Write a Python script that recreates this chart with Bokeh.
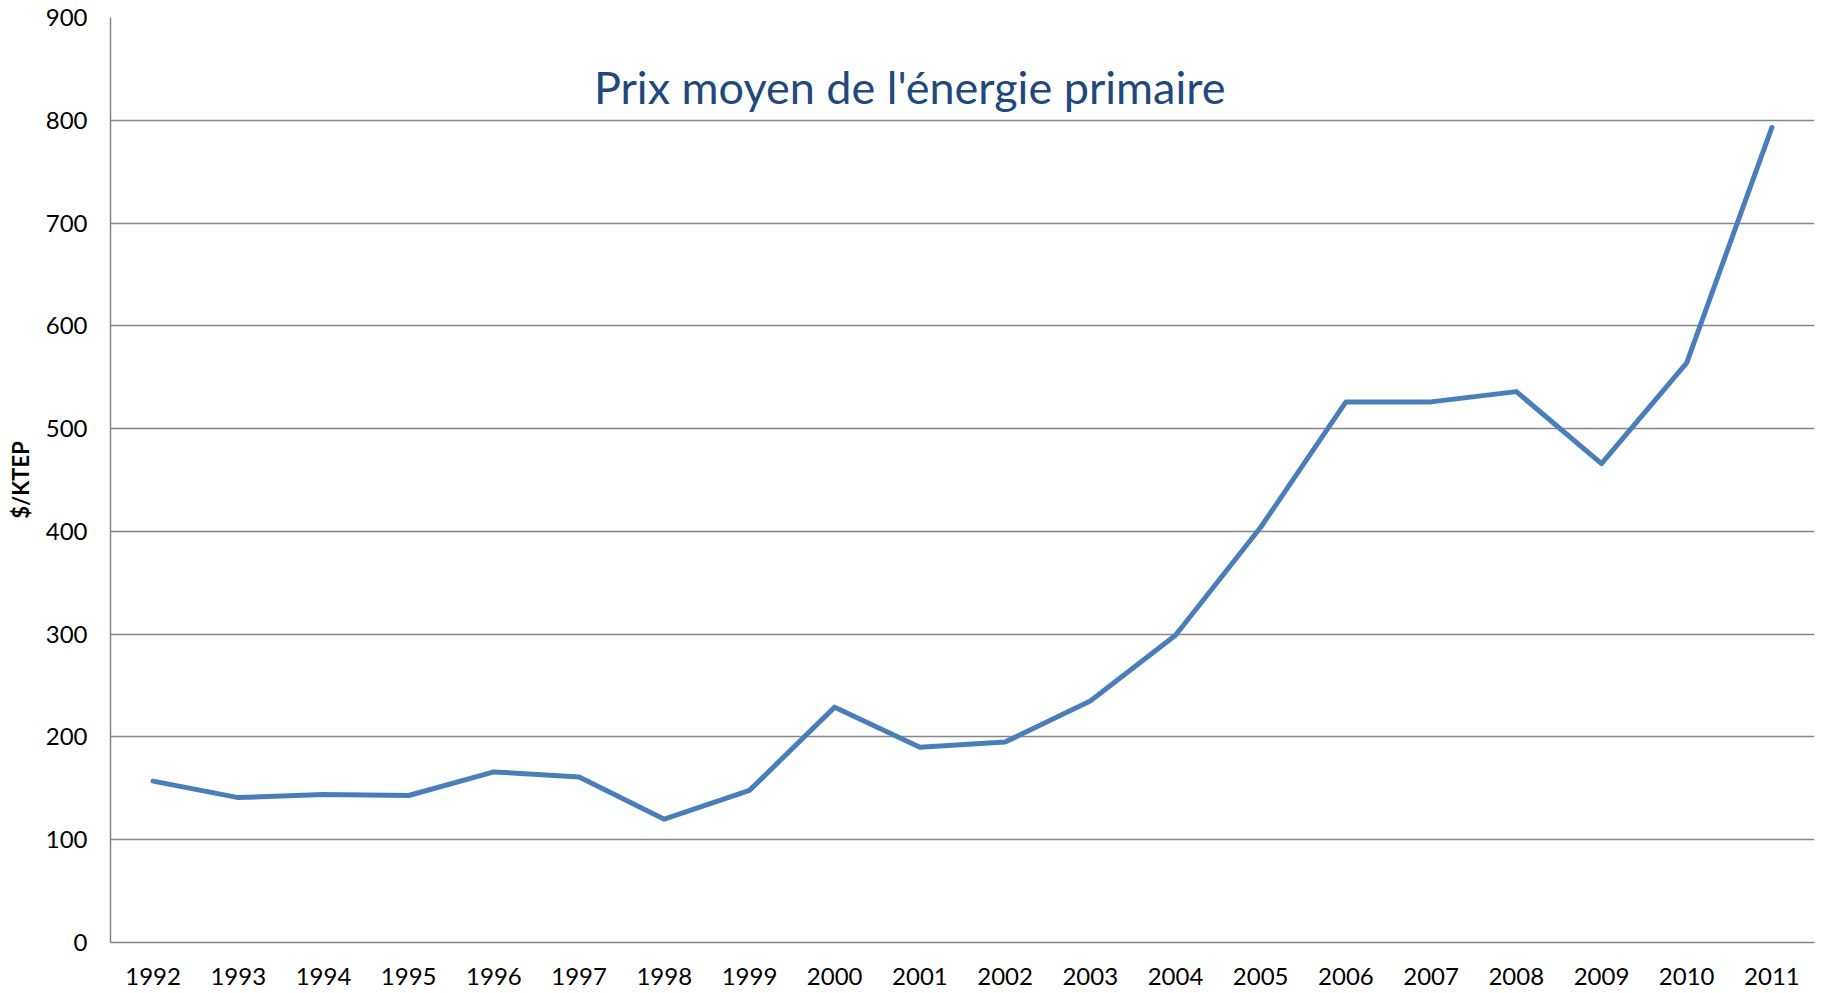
from bokeh.plotting import figure
from bokeh.models import Label, FixedTicker
from bokeh.embed import file_html
from bokeh.resources import INLINE

years = [str(y) for y in range(1992, 2012)]
prices = [157, 141, 144, 143, 166, 161, 120, 148, 229, 190,
          195, 235, 299, 404, 526, 526, 536, 466, 564, 793]
y_ticks = [0, 100, 200, 300, 400, 500, 600, 700, 800, 900]
title_text = "Prix moyen de l'énergie primaire"
y_label = "$/KTEP"

FONT = "Lato"
GRID = "#868686"

p = figure(x_range=years, y_range=(0, 900), width=1823, height=993,
           output_backend="svg", toolbar_location=None,
           min_border_left=110, min_border_right=9,
           min_border_top=17, min_border_bottom=51)
p.outline_line_color = None
p.background_fill_color = "white"
p.border_fill_color = "white"

p.line(x=years, y=prices, line_color="#4A7EBB", line_width=5,
       line_join="round", line_cap="round")

p.yaxis.ticker = FixedTicker(ticks=y_ticks)
p.ygrid.ticker = FixedTicker(ticks=y_ticks)
p.ygrid.grid_line_color = GRID
p.ygrid.grid_line_width = 1.5
p.xgrid.grid_line_color = None

for ax in (p.xaxis, p.yaxis):
    ax.axis_line_color = GRID
    ax.axis_line_width = 1.5
    ax.major_tick_line_color = None
    ax.minor_tick_line_color = None
    ax.major_label_text_font = FONT
    ax.major_label_text_font_size = "24px"
    ax.major_label_text_color = "black"

p.yaxis.major_label_standoff = 17
p.xaxis.major_label_standoff = 19
p.yaxis.axis_label = y_label
p.yaxis.axis_label_text_font = FONT
p.yaxis.axis_label_text_font_size = "22px"
p.yaxis.axis_label_text_font_style = "bold"
p.yaxis.axis_label_text_color = "black"
p.yaxis.axis_label_standoff = 9

p.add_layout(Label(x=9.38, y=832, text=title_text, text_font=FONT,
                   text_font_size="45px", text_color="#1F497D",
                   text_align="center", text_baseline="middle"))

open("out.html", "w").write(file_html(p, INLINE))
